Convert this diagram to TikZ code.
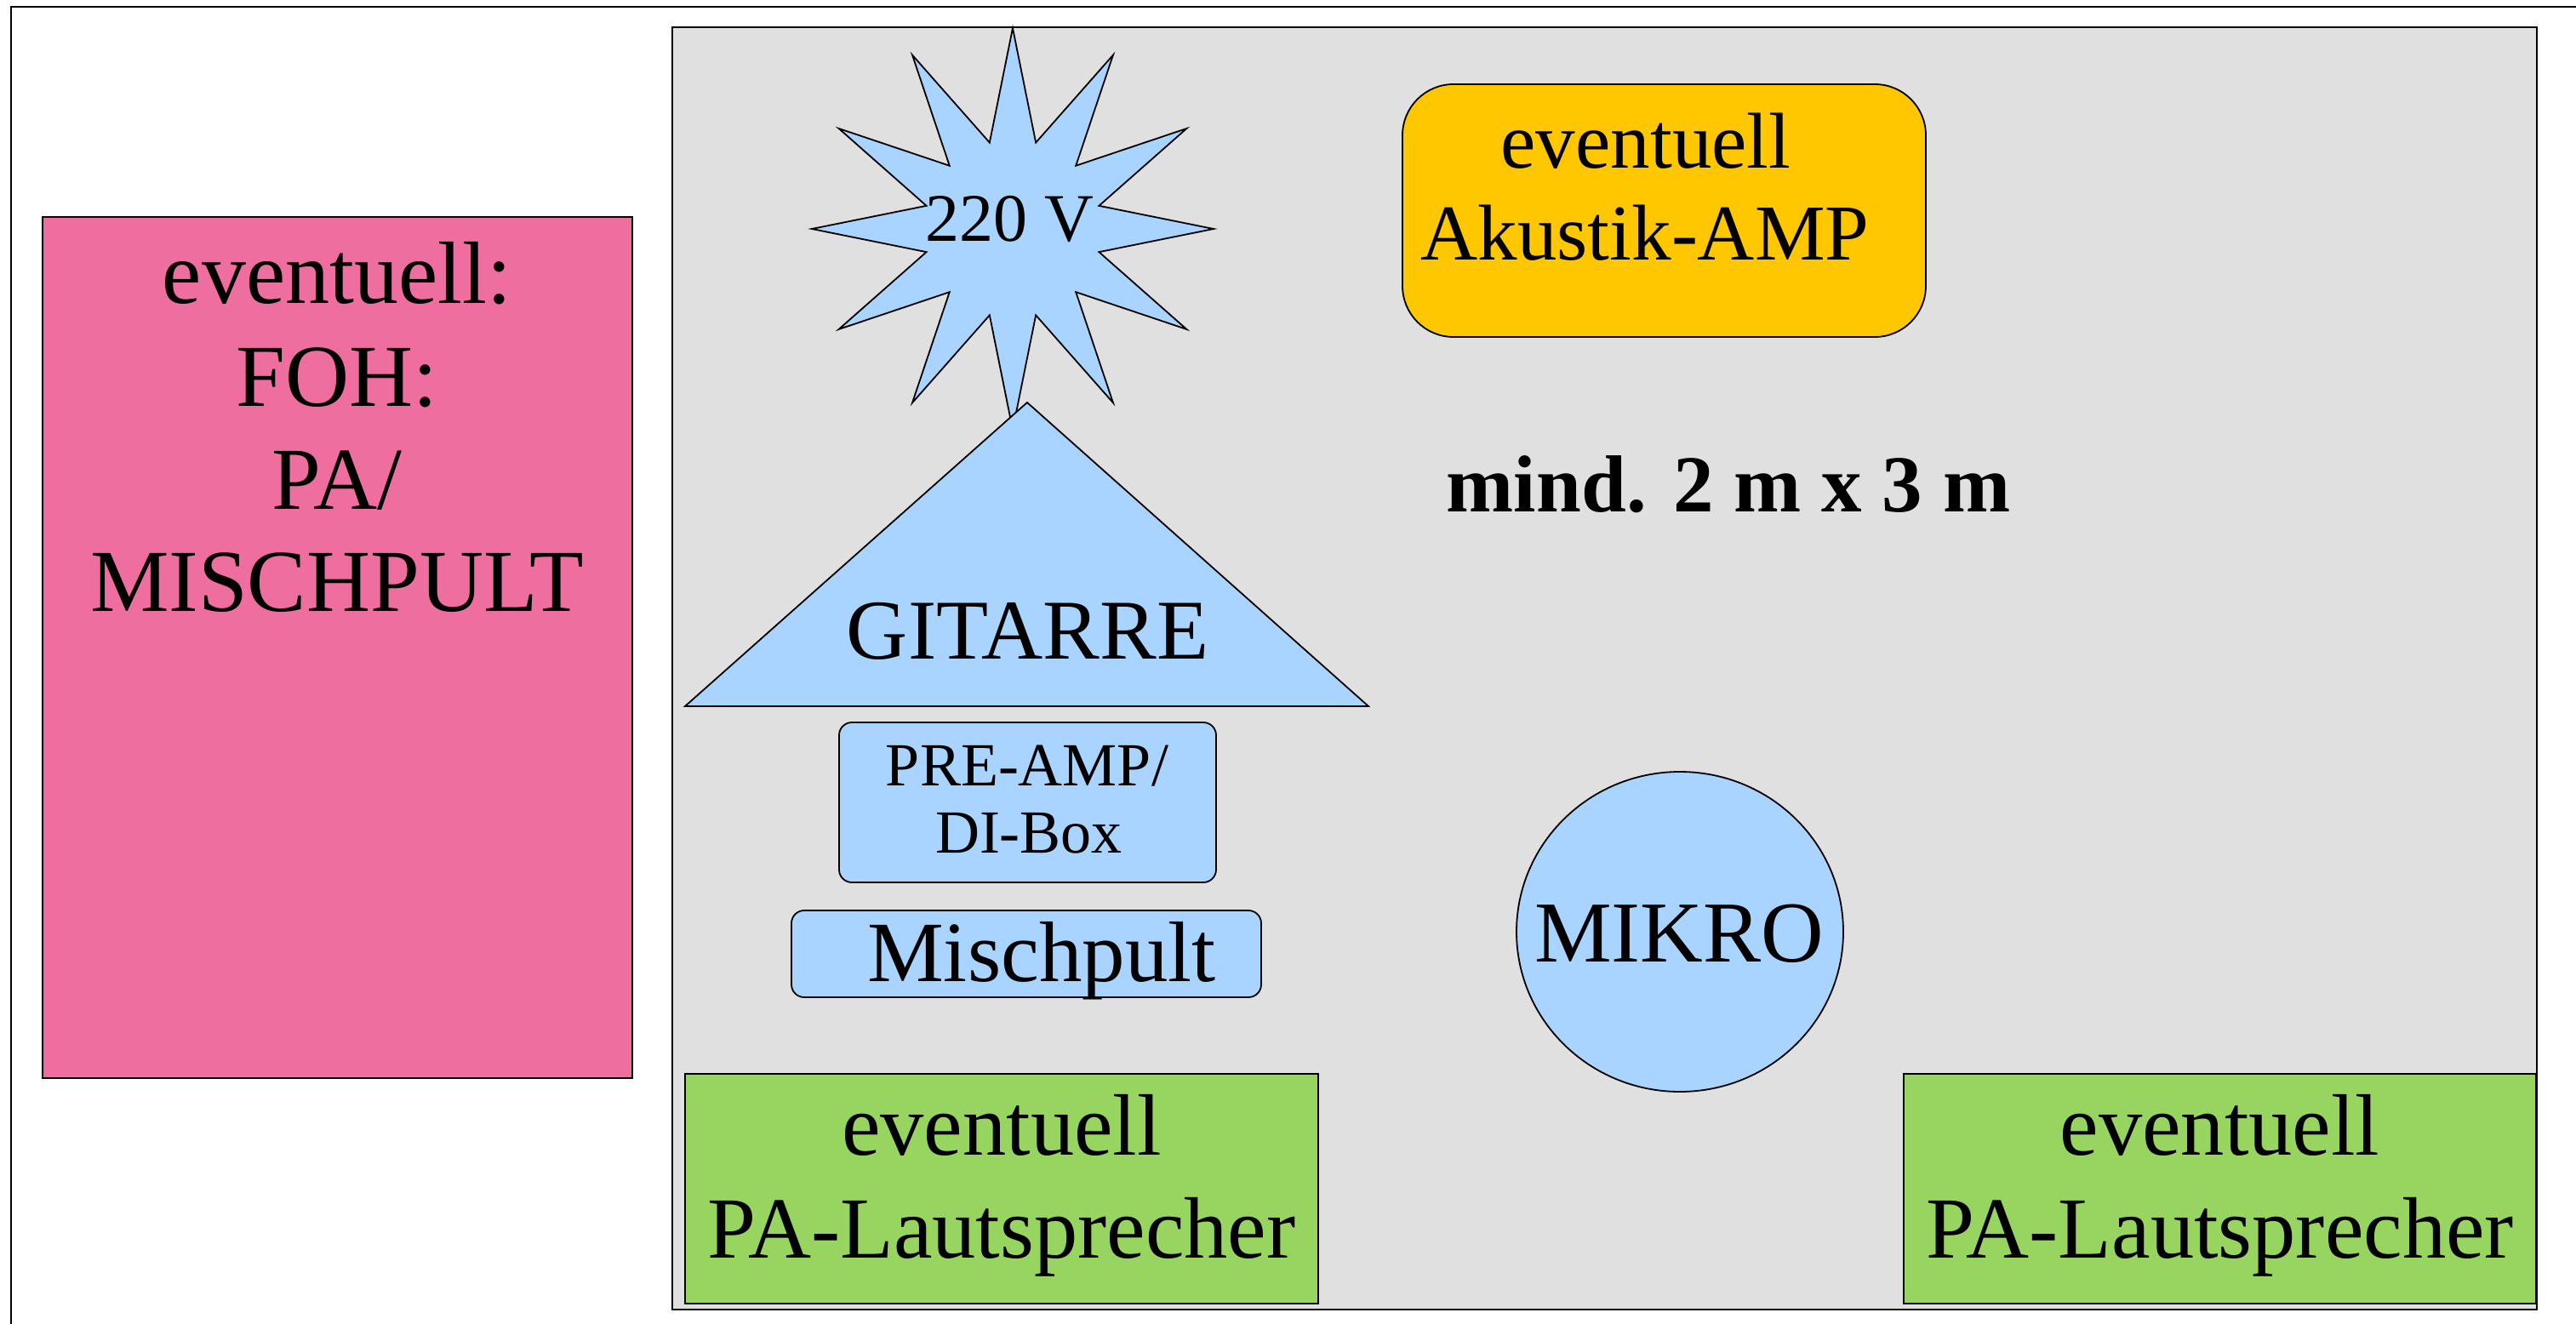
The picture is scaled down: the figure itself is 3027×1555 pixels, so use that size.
\documentclass[tikz,border=0pt]{standalone}
\usepackage{fontspec}
\setmainfont{Liberation Serif}
\usetikzlibrary{shapes.geometric}
\definecolor{stagegray}{RGB}{224,224,224}
\definecolor{lightblue}{RGB}{168,212,255}
\definecolor{fohpink}{RGB}{238,111,159}
\definecolor{ampyellow}{RGB}{255,199,0}
\definecolor{paGreen}{RGB}{151,212,96}
\tikzset{
  frameline/.style={draw=black, line width=2.2pt},
  shapeline/.style={draw=black, line width=1.8pt},
  bluefill/.style={shapeline, fill=lightblue},
  boxnode/.style={rectangle, inner sep=0pt, outer sep=0pt},
  lbl/.style={anchor=base, inner sep=0pt, outer sep=0pt, text=black},
}
\begin{document}
\begin{tikzpicture}[x=1pt, y=-1pt]
\useasboundingbox (0,0) rectangle (3027,1555);
\fill[white] (0,0) rectangle (3027,1555);
% outer page frame (only top and left edges visible)
\coordinate (frameBL) at (13,1560);
\coordinate (frameTL) at (13,8);
\coordinate (frameTR) at (3032,8);
\draw[frameline] (frameBL) -- (frameTL) -- (frameTR);
% stage area
\node[boxnode, frameline, fill=stagegray, minimum width=2191pt, minimum height=1507pt] (stage) at (1885.5,785.5) {};
% FOH box
\node[boxnode, shapeline, fill=fohpink, minimum width=693pt, minimum height=1012pt] (foh) at (396.5,761) {};
\node[lbl, font=\fontsize{104}{125}\selectfont] (foh1) at (396,356) {eventuell:};
\node[lbl, font=\fontsize{104}{125}\selectfont] (foh2) at (396,477) {FOH:};
\node[lbl, font=\fontsize{104}{125}\selectfont] (foh3) at (396,598) {PA/};
\node[lbl, font=\fontsize{104}{125}\selectfont] (foh4) at (396,718) {MISCHPULT};
% 220 V star
\coordinate (starc) at (1190,269);
\draw[bluefill, shift={(starc)}] (90:236)
  \foreach \k in {0,...,11} { -- ({105+30*\k}:105) -- ({120+30*\k}:236) } -- cycle;
\node[lbl, font=\fontsize{80}{96}\selectfont] (volt) at (1186,283) {220 V};
% guitar triangle
\coordinate (gtop) at (1207,473);
\coordinate (gleft) at (805,830);
\coordinate (gright) at (1608,830);
\draw[bluefill, line join=miter] (gtop) -- (gright) -- (gleft) -- cycle;
\node[lbl, font=\fontsize{100}{120}\selectfont] (gitarre) at (1207.5,774) {GITARRE};
% pre-amp
\node[boxnode, bluefill, rounded corners=15pt, minimum width=443pt, minimum height=188pt] (preamp) at (1207.5,943) {};
\node[lbl, font=\fontsize{72}{79}\selectfont] (pre1) at (1207,923) {PRE-AMP/};
\node[lbl, font=\fontsize{72}{79}\selectfont] (pre2) at (1209,1002) {DI-Box};
% mixer
\node[boxnode, bluefill, rounded corners=15pt, minimum width=552pt, minimum height=102pt] (mixer) at (1206,1121) {};
\node[lbl, font=\fontsize{101}{121}\selectfont] (mixtext) at (1224,1153) {Mischpult};
% acoustic amp
\node[boxnode, shapeline, fill=ampyellow, rounded corners=60pt, minimum width=615pt, minimum height=297pt] (amp) at (1955.5,247.5) {};
\node[lbl, font=\fontsize{93}{108}\selectfont] (amp1) at (1934,197) {eventuell};
\node[lbl, font=\fontsize{93}{108}\selectfont] (amp2) at (1933,305) {Akustik-AMP};
% size note
\node[lbl, font=\fontsize{95}{114}\selectfont\bfseries] (size) at (2031,601) {mind. 2 m x 3 m};
% microphone
\node[ellipse, bluefill, inner sep=0pt, minimum width=384pt, minimum height=376pt] (mikro) at (1974,1095) {};
\node[lbl, font=\fontsize{102}{122}\selectfont] (mikrotext) at (1973,1130) {MIKRO};
% PA speakers
\node[boxnode, shapeline, fill=paGreen, minimum width=744pt, minimum height=270pt] (paL) at (1177,1397) {};
\node[lbl, font=\fontsize{102.5}{121}\selectfont] (paL1) at (1177,1357) {eventuell};
\node[lbl, font=\fontsize{102.5}{121}\selectfont] (paL2) at (1177,1478) {PA-Lautsprecher};
\node[boxnode, shapeline, fill=paGreen, minimum width=743pt, minimum height=270pt] (paR) at (2608.5,1397) {};
\node[lbl, font=\fontsize{102.5}{121}\selectfont] (paR1) at (2608.5,1357) {eventuell};
\node[lbl, font=\fontsize{102.5}{121}\selectfont] (paR2) at (2608.5,1478) {PA-Lautsprecher};
\end{tikzpicture}
\end{document}
